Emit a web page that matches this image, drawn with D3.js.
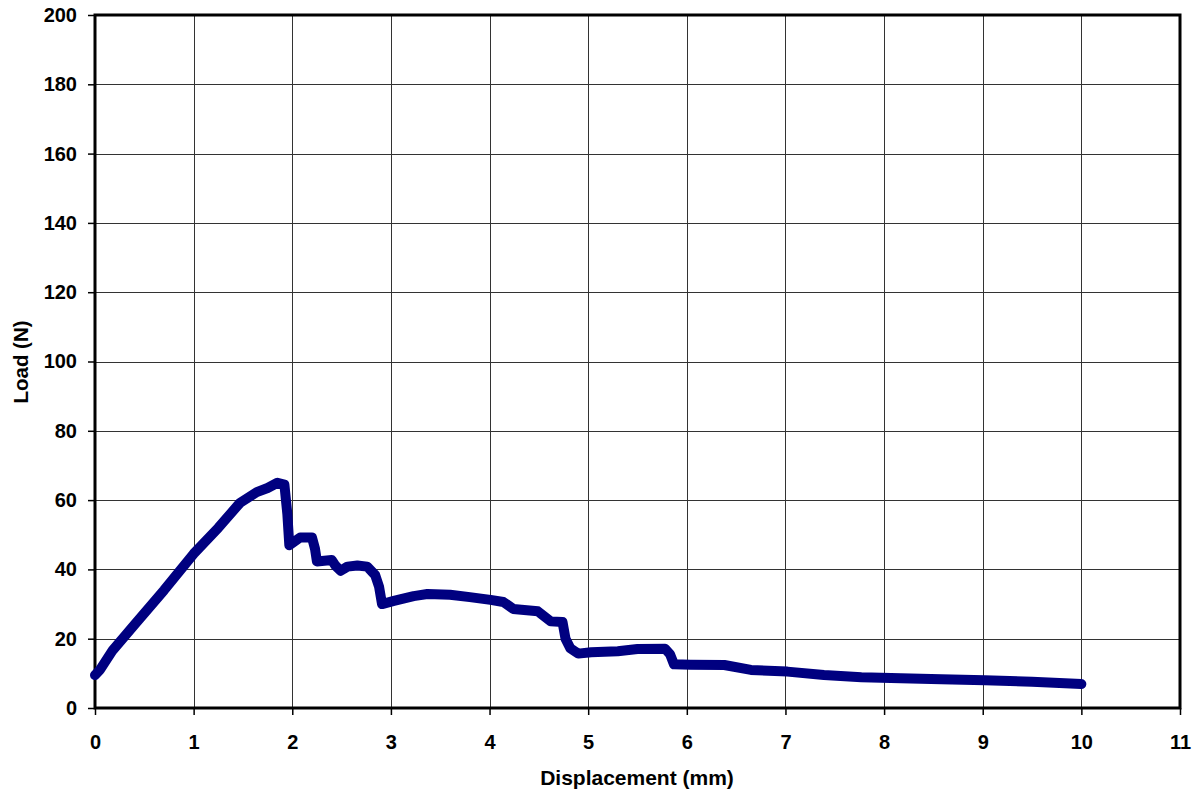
<!DOCTYPE html>
<html>
<head>
<meta charset="utf-8">
<script src="https://cdn.jsdelivr.net/npm/d3@7"></script>
<style>
  body { margin: 0; background: #fff; }
  svg { display: block; }
  text { font-family: "Liberation Sans", Arial, sans-serif; font-weight: bold; fill: #000; }
</style>
</head>
<body>
<svg id="chart" width="1197" height="794"></svg>
<script>
// Load vs displacement curve.
const displacement = [0, 0.05, 0.18, 0.4, 0.7, 1.0, 1.25, 1.47, 1.64, 1.75, 1.85, 1.92, 1.95, 1.97, 2.08, 2.2, 2.23, 2.25, 2.4, 2.44, 2.49, 2.56, 2.66, 2.76, 2.84, 2.88, 2.91, 3.03, 3.23, 3.37, 3.6, 3.8, 4.01, 4.14, 4.24, 4.49, 4.62, 4.74, 4.77, 4.82, 4.9, 5.03, 5.3, 5.5, 5.78, 5.83, 5.87, 6.04, 6.38, 6.65, 7.02, 7.39, 7.77, 8.17, 8.58, 9.02, 9.5, 10.0];
const load = [9.5, 11, 16.7, 24, 34, 44.5, 52, 59.2, 62.3, 63.5, 65, 64.5, 56, 47, 49.2, 49.2, 46, 42.3, 42.7, 41, 39.6, 40.8, 41.1, 40.8, 38.4, 35, 30, 30.9, 32.3, 32.9, 32.7, 32, 31.2, 30.6, 28.6, 27.9, 25, 24.8, 20, 17.2, 15.7, 16.1, 16.4, 17.0, 17.1, 15.5, 12.6, 12.5, 12.4, 11.0, 10.5, 9.5, 8.9, 8.6, 8.3, 8.0, 7.6, 6.9];

const xTicks = d3.range(0, 12, 1);
const yTicks = d3.range(0, 220, 20);

const svg = d3.select('#chart');
const margin = { left: 95, top: 15, right: 1180, bottom: 708 };

const x = d3.scaleLinear().domain([0, 11]).range([margin.left, margin.right]);
const y = d3.scaleLinear().domain([0, 200]).range([margin.bottom, margin.top]);

// grid
const grid = svg.append('g').attr('stroke', '#333').attr('stroke-width', 1);
grid.selectAll('line.v').data(xTicks.slice(1, -1)).join('line')
    .attr('x1', (d) => Math.round(x(d)) + 0.5).attr('x2', (d) => Math.round(x(d)) + 0.5)
    .attr('y1', margin.top).attr('y2', margin.bottom);
grid.selectAll('line.h').data(yTicks.slice(1, -1)).join('line')
    .attr('y1', (d) => Math.round(y(d)) + 0.5).attr('y2', (d) => Math.round(y(d)) + 0.5)
    .attr('x1', margin.left).attr('x2', margin.right);

// axes
const xAxis = d3.axisBottom(x).tickValues(xTicks).tickSize(7).tickPadding(20);
const yAxis = d3.axisLeft(y).tickValues(yTicks).tickSize(7).tickPadding(11);

const gx = svg.append('g').attr('transform', `translate(0,${margin.bottom})`).call(xAxis);
const gy = svg.append('g').attr('transform', `translate(${margin.left},0)`).call(yAxis);
[gx, gy].forEach((g) => {
    g.select('.domain').remove();
    g.selectAll('.tick line').attr('stroke', '#000').attr('stroke-width', 1.5);
    g.selectAll('.tick text').attr('font-size', 20)
        .attr('font-family', '"Liberation Sans", Arial, sans-serif').attr('font-weight', 'bold');
});

// frame
svg.append('rect')
    .attr('x', margin.left).attr('y', margin.top)
    .attr('width', margin.right - margin.left).attr('height', margin.bottom - margin.top)
    .attr('fill', 'none').attr('stroke', '#000').attr('stroke-width', 3);

// curve
const pts = displacement.map((d, i) => [d, load[i]]);
const line = d3.line().x((d) => x(d[0])).y((d) => y(d[1]));
svg.append('path').datum(pts)
    .attr('d', line)
    .attr('fill', 'none')
    .attr('stroke', '#000080')
    .attr('stroke-width', 10)
    .attr('stroke-linejoin', 'round')
    .attr('stroke-linecap', 'round');

// axis titles
svg.append('text')
    .attr('x', 637).attr('y', 785)
    .attr('text-anchor', 'middle').attr('font-size', 21)
    .text('Displacement (mm)');
svg.append('text')
    .attr('transform', `translate(28,362) rotate(-90)`)
    .attr('text-anchor', 'middle').attr('font-size', 20.5)
    .text('Load (N)');
</script>
</body>
</html>
